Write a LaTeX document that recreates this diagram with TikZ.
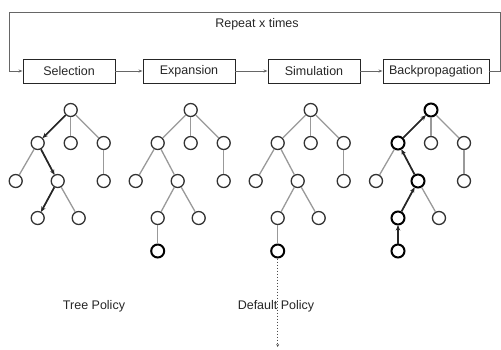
\documentclass[tikz,border=0pt]{standalone}
\usepackage{fontspec}
\setmainfont{Liberation Sans}
\usetikzlibrary{arrows.meta}
\tikzset{
  stage/.style={draw=black!85, line width=0.9pt, minimum height=24, inner sep=0pt, font=\fontsize{12.5}{14}\selectfont, text=black!85},
  tnode/.style={circle, draw=black!80, line width=1.3pt, minimum size=13, inner sep=0pt, fill=white},
  hot/.style={tnode, draw=black, line width=2pt},
  edge/.style={draw=black!40, line width=1.3pt},
  walk/.style={draw=black!85, line width=1.7pt, -{Stealth[length=5pt,width=4.5pt]}},
  flow/.style={draw=black!60, line width=0.8pt, -{Stealth[length=4pt,width=3pt]}},
  caption/.style={font=\fontsize{12.5}{14}\selectfont, text=black!85}
}
\begin{document}
\begin{tikzpicture}[x=1pt,y=-1pt]
  \useasboundingbox (0,0) rectangle (501,349);

  % stages
  \node[stage, minimum width=92] (sel) at (69,71) {Selection};
  \node[stage, minimum width=92] (exp) at (189,71) {Expansion};
  \node[stage, minimum width=92] (sim) at (314,71) {Simulation};
  \node[stage, minimum width=106] (bp) at (436,71) {Backpropagation};
  \draw[flow] (sel) -- (exp);
  \draw[flow] (exp) -- (sim);
  \draw[flow] (sim) -- (bp);

  % loop back
  \coordinate (loopR) at (500,12);
  \coordinate (loopL) at (9,12);
  \draw[flow] (bp.east) -| (loopR) -- (loopL) |- (sel.west);
  \node[caption] (rep) at (257,24) {Repeat x times};

  % the four trees
  \foreach \i/\x/\st in {1/70.7/tnode, 2/190.7/tnode, 3/310.7/tnode, 4/431/hot} {
    \begin{scope}[shift={(\x,0)}]
      \node[\st] (r\i) at (0,110) {};
      \node[\st] (a\i) at (-33,143) {};
      \node[tnode] (b\i) at (0,143) {};
      \node[tnode] (c\i) at (33,143) {};
      \node[tnode] (d\i) at (-55,181) {};
      \node[\st] (e\i) at (-13,181) {};
      \node[tnode] (f\i) at (33,181) {};
      \node[\st] (g\i) at (-33,218) {};
      \node[tnode] (h\i) at (8,218) {};
    \end{scope}
    \draw[edge] (r\i) -- (a\i);
    \draw[edge] (r\i) -- (b\i);
    \draw[edge] (r\i) -- (c\i);
    \draw[edge] (a\i) -- (d\i);
    \draw[edge] (a\i) -- (e\i);
    \draw[edge] (c\i) -- (f\i);
    \draw[edge] (e\i) -- (g\i);
    \draw[edge] (e\i) -- (h\i);
  }

  % new node
  \foreach \i/\x in {2/190.7, 3/310.7, 4/431} {
    \node[hot] (i\i) at (\x-33,251) {};
    \draw[edge] (g\i) -- (i\i);
  }

  % tree policy
  \draw[walk] (r1) -- (a1);
  \draw[walk] (a1) -- (e1);
  \draw[walk] (e1) -- (g1);

  % backpropagation
  \draw[walk] (i4) -- (g4);
  \draw[walk] (g4) -- (e4);
  \draw[walk] (e4) -- (a4);
  \draw[walk] (a4) -- (r4);

  % default policy
  \node[caption] (tp) at (94,306) {Tree Policy};
  \node[caption] (dp) at (276,306) {Default Policy};
  \coordinate (sink) at (277.7,347);
  \draw[dotted, line width=1pt, black!70, -{Stealth[length=3pt,width=3pt]}] (i3) -- (sink);
\end{tikzpicture}
\end{document}
